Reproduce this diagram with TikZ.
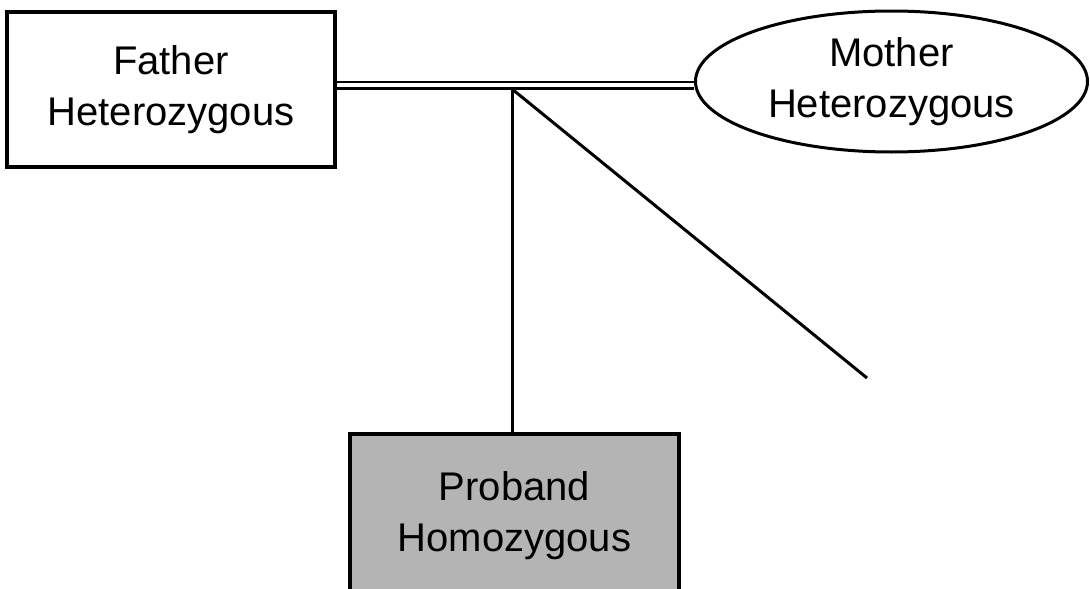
\documentclass[tikz,border=0pt]{standalone}
\usepackage{fontspec}
\setmainfont{Liberation Sans}
\usetikzlibrary{shapes.geometric}
\begin{document}
\begin{tikzpicture}[x=1pt,y=-1pt,
  lbl/.style={font=\fontsize{40}{51}\selectfont, align=center, inner sep=0pt},
  person/.style={lbl, draw=black, line width=3.6pt},
  link/.style={draw=black, line width=3pt},
  marriage/.style={draw=black, line width=2.8pt, double=white, double distance=3.4pt}]
\useasboundingbox (0,0) rectangle (1090,589);
\node[person, rectangle, minimum width=328pt, minimum height=155pt] (father) at (171,89.5) {Father\\Heterozygous};
\node[person, ellipse, line width=3pt, minimum width=392pt, minimum height=141pt] (mother) at (891.5,81.5) {Mother\\Heterozygous};
\node[person, rectangle, fill={rgb,255:red,180;green,180;blue,180}, minimum width=329pt, minimum height=164pt] (proband) at (514.5,516) {Proband\\Homozygous};
\coordinate (m1) at (father.east |- 0,85);
\coordinate (m2) at (mother.west |- 0,85);
\coordinate (j) at (512,89);
\coordinate (e) at (867,378);
\draw[marriage] (m1) -- (m2);
\draw[link] (j) -- (j |- proband.north);
\draw[link] (j) -- (e);
\end{tikzpicture}
\end{document}
